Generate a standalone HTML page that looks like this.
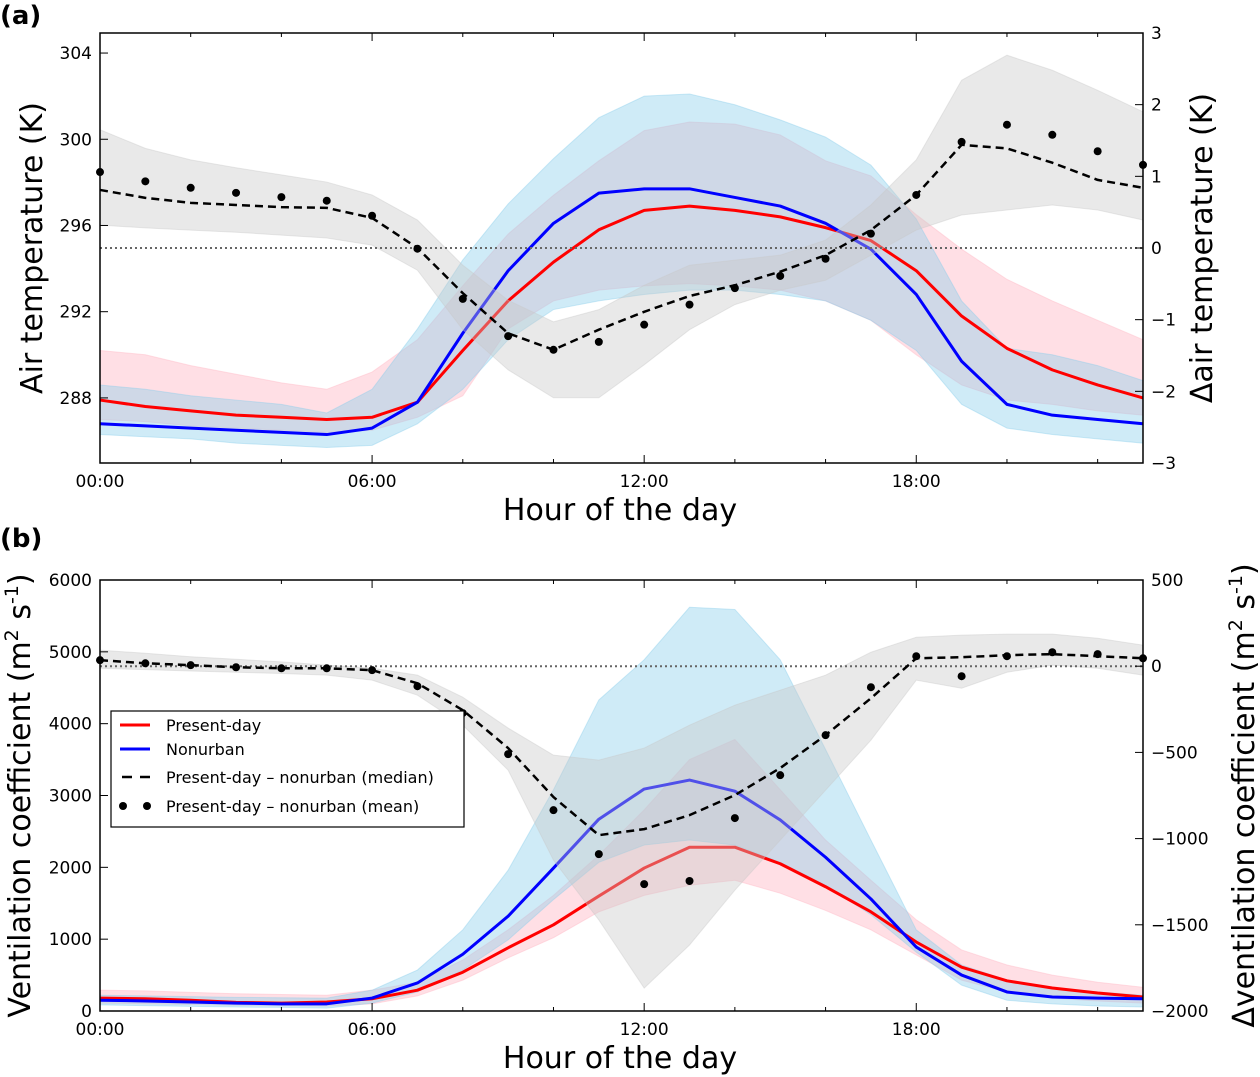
<!DOCTYPE html>
<html><head><meta charset="utf-8"><style>
body{margin:0;background:#fff;}
svg{display:block;font-family:"DejaVu Sans","Liberation Sans",sans-serif;}
</style></head><body>
<svg id="c" width="1260" height="1077" xmlns="http://www.w3.org/2000/svg">
<text x="0" y="24" font-size="26" font-weight="bold">(a)</text>
<text x="0" y="547" font-size="26" font-weight="bold">(b)</text>
</svg>
<script>
const hours=[0,1,2,3,4,5,6,7,8,9,10,11,12,13,14,15,16,17,18,19,20,21,22,23];
const xTicks=[0,6,12,18];
const xTickLabels=["00:00","06:00","12:00","18:00"];
// Panel a
const aRed=[287.9,287.6,287.4,287.2,287.1,287.0,287.1,287.8,290.2,292.5,294.3,295.8,296.7,296.9,296.7,296.4,295.9,295.3,293.9,291.8,290.3,289.3,288.6,288.0];
const aRedHi=[290.2,290.0,289.5,289.1,288.7,288.4,289.2,290.7,293.2,295.6,297.4,299.0,300.4,300.8,300.7,300.2,299.0,298.3,296.5,294.9,293.5,292.5,291.6,290.7];
const aRedLo=[287.0,286.9,286.7,286.6,286.5,286.4,286.5,287.1,288.1,291.2,292.5,293.0,293.2,293.3,293.2,293.0,292.5,291.6,290.0,288.6,287.9,287.7,287.4,287.2];
const aBlue=[286.8,286.7,286.6,286.5,286.4,286.3,286.6,287.8,291.0,293.9,296.1,297.5,297.7,297.7,297.3,296.9,296.1,294.9,292.8,289.7,287.7,287.2,287.0,286.8];
const aBlueHi=[288.6,288.4,288.1,287.9,287.7,287.3,288.4,291.2,294.4,297.0,299.1,301.0,302.0,302.1,301.6,300.9,300.1,298.8,296.3,292.5,290.3,290.0,289.5,288.8];
const aBlueLo=[286.3,286.2,286.1,285.9,285.8,285.7,285.8,286.8,288.4,290.7,292.1,292.5,292.8,293.0,293.0,292.8,292.5,291.6,290.2,287.7,286.6,286.3,286.1,285.9];
const aMed=[0.81,0.70,0.63,0.60,0.57,0.56,0.42,0.0,-0.63,-1.19,-1.42,-1.14,-0.89,-0.67,-0.52,-0.33,-0.10,0.25,0.74,1.44,1.39,1.19,0.95,0.84];
const aMean=[1.06,0.93,0.84,0.77,0.71,0.66,0.45,-0.01,-0.71,-1.23,-1.42,-1.31,-1.07,-0.79,-0.56,-0.39,-0.15,0.20,0.74,1.48,1.72,1.58,1.35,1.16];
const aDHi=[1.65,1.39,1.23,1.12,1.02,0.92,0.74,0.39,-0.24,-0.73,-1.03,-0.86,-0.52,-0.24,-0.17,-0.10,0.11,0.60,1.23,2.34,2.69,2.48,2.20,1.90];
const aDLo=[0.32,0.28,0.25,0.22,0.18,0.14,0.04,-0.31,-1.14,-1.70,-2.09,-2.09,-1.63,-1.14,-0.79,-0.59,-0.45,-0.10,0.25,0.46,0.53,0.60,0.53,0.39];
const aLeftTicks=[288,292,296,300,304];
const aRightTicks=[-3,-2,-1,0,1,2,3];
// Panel b
const bRed=[180,170,150,120,110,125,170,290,540,880,1200,1600,1990,2280,2280,2050,1730,1380,960,610,420,320,250,195];
const bRedHi=[290,280,260,240,230,220,290,400,710,1130,1610,2170,2800,3500,3780,3080,2380,1820,1270,850,640,500,400,330];
const bRedLo=[110,100,90,80,75,70,100,210,430,740,1020,1380,1610,1750,1820,1640,1400,1130,780,430,265,180,140,110];
const bBlue=[150,140,125,110,100,100,180,390,790,1320,1990,2670,3090,3215,3060,2660,2140,1560,890,500,265,195,180,170];
const bBlueHi=[220,210,200,190,185,180,290,570,1130,1960,3080,4330,4890,5620,5590,4890,3640,2380,1130,640,430,320,265,220];
const bBlueLo=[85,75,65,55,50,40,110,265,570,990,1550,2070,2310,2380,2310,2070,1750,1340,820,360,150,100,70,55];
const bMed=[35,17,6,-6,-12,-12,-23,-99,-255,-475,-759,-980,-945,-864,-748,-591,-400,-186,46,52,64,70,58,46];
const bMean=[35,17,6,-6,-12,-12,-23,-116,-272,-510,-835,-1090,-1264,-1246,-881,-632,-400,-122,58,-58,58,81,70,46];
const bDHi=[93,75,55,40,25,6,-12,-52,-180,-359,-516,-545,-475,-342,-226,-139,-52,81,168,180,186,186,162,122];
const bDLo=[-12,-20,-28,-35,-42,-52,-81,-168,-342,-603,-1125,-1472,-1867,-1617,-1299,-1009,-719,-429,-81,-128,-35,6,-12,-52];
const bLeftTicks=[0,1000,2000,3000,4000,5000,6000];
const bRightTicks=[-2000,-1500,-1000,-500,0,500];

const NS="http://www.w3.org/2000/svg";
const svg=document.getElementById('c');
function mk(tag,attrs,parent){const e=document.createElementNS(NS,tag);for(const k in attrs)e.setAttribute(k,attrs[k]);(parent||svg).appendChild(e);return e;}
const X0=100,X1=1143;
const xs=h=>X0+(h/23)*(X1-X0);

function panel(p){
 const g=mk('g',{});
 
 
 const yl=v=>p.y1-(v-p.l0)/(p.l1-p.l0)*(p.y1-p.y0);
 const yr=v=>p.y1-(v-p.r0)/(p.r1-p.r0)*(p.y1-p.y0);
 function band(hi,lo,sc,fill,op,name){
  let d='M'+hours.map((h,i)=>xs(h)+','+sc(hi[i])).join('L');
  for(let i=hours.length-1;i>=0;i--)d+='L'+xs(hours[i])+','+sc(lo[i]);
  const e=mk('path',{d:d+'Z',fill:fill,'fill-opacity':op,stroke:fill,'stroke-opacity':op,'stroke-width':1},g);
  
  
 }
 function line(v,sc,col,w,dash,name){
  const e=mk('polyline',{points:hours.map((h,i)=>xs(h)+','+sc(v[i])).join(' '),fill:'none',stroke:col,'stroke-width':w,'stroke-dasharray':dash||'none','stroke-linejoin':'round'},g);
  
  
 }
 band(p.redHi,p.redLo,yl,'#ffc0cb',0.5,'present-day-band');
 band(p.blueHi,p.blueLo,yl,'#87ceeb',0.4,'nonurban-band');
 line(p.red,yl,'#ff0000',3,null,'present-day-line');
 line(p.blue,yl,'#0000ff',3,null,'nonurban-line');
 band(p.dHi,p.dLo,yr,'#c8c8c8',0.4,'difference-band');
 const z=mk('line',{x1:X0,x2:X1,y1:yr(0),y2:yr(0),stroke:'#666','stroke-width':2,'stroke-dasharray':'2,3'},g);
 
 
 line(p.med,yr,'#000',2.5,'8,5','difference-median-line');
 p.mean.forEach((v,i)=>{const c=mk('circle',{cx:xs(hours[i]),cy:yr(v),r:4,fill:'#000'},g);
  
  });
 const fr=mk('rect',{x:X0,y:p.y0,width:X1-X0,height:p.y1-p.y0,fill:'none',stroke:'#000','stroke-width':1.5},g);
 
 
 for(let h=0;h<=22;h+=2){const L=xTicks.includes(h)?8:4;
  mk('line',{x1:xs(h),x2:xs(h),y1:p.y1,y2:p.y1-L,stroke:'#000'},g);
  mk('line',{x1:xs(h),x2:xs(h),y1:p.y0,y2:p.y0+L,stroke:'#000'},g);}
 xTicks.forEach((h,i)=>{const t=mk('text',{x:xs(h),y:p.y1+24,'font-size':17,'text-anchor':'middle'},g);t.textContent=xTickLabels[i];
  
  });
 p.lt.forEach(v=>{mk('line',{x1:X0,x2:X0+8,y1:yl(v),y2:yl(v),stroke:'#000'},g);
  const t=mk('text',{x:X0-8,y:yl(v)+6,'font-size':17,'text-anchor':'end'},g);t.textContent=v;
  
  });
 p.rt.forEach(v=>{mk('line',{x1:X1,x2:X1-8,y1:yr(v),y2:yr(v),stroke:'#000'},g);
  const t=mk('text',{x:X1+8,y:yr(v)+6,'font-size':17},g);t.textContent=(v<0?'\u2212'+(-v):v);
  
  });
 const xt=mk('text',{x:620,y:p.y1+57,'font-size':30,'text-anchor':'middle'},g);xt.textContent='Hour of the  day';
 
 
 const cy=(p.y0+p.y1)/2;
 const lt=mk('text',{x:0,y:0,'font-size':30,'text-anchor':'middle',transform:`translate(${p.lx},${cy}) rotate(-90)`},g);lt.innerHTML=p.ltitle;
 
 
 const rt=mk('text',{x:0,y:0,'font-size':30,'text-anchor':'middle',transform:`translate(${p.rx},${cy}) rotate(-90)`},g);rt.innerHTML=p.rtitle;
 
 
}
panel({name:'panel-a',y0:33,y1:463,l0:284.98,l1:304.93,r0:-3,r1:3,red:aRed,redHi:aRedHi,redLo:aRedLo,blue:aBlue,blueHi:aBlueHi,blueLo:aBlueLo,med:aMed,mean:aMean,dHi:aDHi,dLo:aDLo,lt:aLeftTicks,rt:aRightTicks,lx:42,rx:1212,ltitle:'Air temperature (K)',rtitle:'\u0394air temperature (K)'});
panel({name:'panel-b',y0:580,y1:1011,l0:0,l1:6000,r0:-2000,r1:500,red:bRed,redHi:bRedHi,redLo:bRedLo,blue:bBlue,blueHi:bBlueHi,blueLo:bBlueLo,med:bMed,mean:bMean,dHi:bDHi,dLo:bDLo,lt:bLeftTicks,rt:bRightTicks,lx:30,rx:1254,ltitle:'Ventilation coefficient (m<tspan dy="-12" font-size="19">2</tspan><tspan dy="12"> s</tspan><tspan dy="-12" font-size="19">-1</tspan><tspan dy="12">)</tspan>',rtitle:'\u0394ventilation coefficient (m<tspan dy="-12" font-size="19">2</tspan><tspan dy="12"> s</tspan><tspan dy="-12" font-size="19">-1</tspan><tspan dy="12">)</tspan>'});
// legend
const lg=mk('g',{});


mk('rect',{x:111,y:711,width:353,height:116,fill:'#fff',stroke:'#000','stroke-width':1.2},lg);
const ent=[['Present-day','red'],['Nonurban','blue'],['Present-day \u2013 nonurban (median)','dash'],['Present-day \u2013 nonurban (mean)','dot']];
const ey=[725,749,777,806];
ent.forEach((e,i)=>{const y=ey[i];
 if(e[1]==='red'||e[1]==='blue')mk('line',{x1:120,x2:150,y1:y,y2:y,stroke:e[1]==='red'?'#f00':'#00f','stroke-width':3},lg);
 else if(e[1]==='dash'){mk('line',{x1:122,x2:132,y1:y,y2:y,stroke:'#000','stroke-width':2.5},lg);mk('line',{x1:140,x2:150,y1:y,y2:y,stroke:'#000','stroke-width':2.5},lg);}
 else{mk('circle',{cx:123,cy:y,r:4},lg);mk('circle',{cx:147,cy:y,r:4},lg);}
 const t=mk('text',{x:166,y:y+6,'font-size':16},lg);t.textContent=e[0];
 
 });
</script>
</body></html>
